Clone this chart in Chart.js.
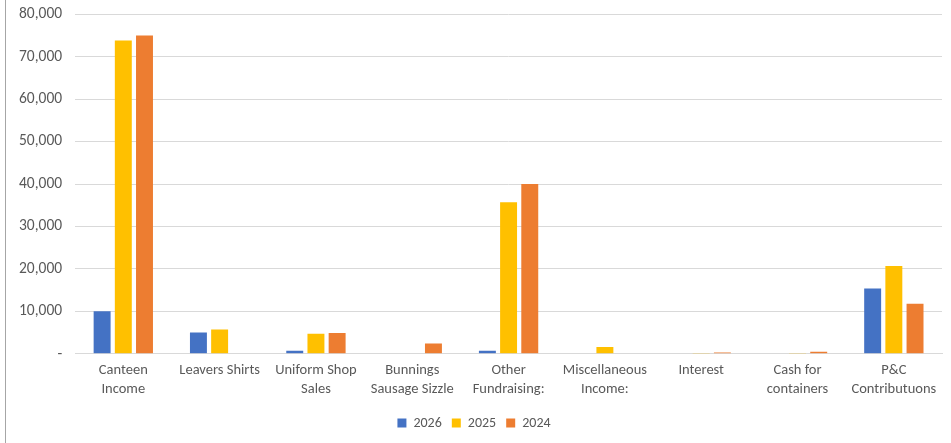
<!DOCTYPE html>
<html>
<head>
<meta charset="utf-8">
<script src="https://cdn.jsdelivr.net/npm/chart.js@4"></script>
<style>
html,body{margin:0;padding:0;background:#fff;overflow:hidden;}
#wrap{position:absolute;left:5px;top:-8px;width:946px;height:451px;border-left:1px solid #a6a6a6;}
canvas{display:block;}
</style>
</head>
<body>
<div id="wrap"><canvas id="c"></canvas></div>
<script>
const categories = [
  ["Canteen","Income"],
  ["Leavers Shirts"],
  ["Uniform Shop","Sales"],
  ["Bunnings","Sausage Sizzle"],
  ["Other","Fundraising:"],
  ["Miscellaneous","Income:"],
  ["Interest"],
  ["Cash for","containers"],
  ["P&C","Contributuons"]
];
const seriesNames = ["2026","2025","2024"];
const values2026 = [10000, 5000, 700, 0, 700, 0, 0, 0, 15400];
const values2025 = [73800, 5700, 4700, 0, 35700, 1600, 200, 200, 20700];
const values2024 = [75000, 0, 4900, 2400, 40000, 0, 300, 500, 11800];
const colors = ["#4472c4", "#ffc000", "#ed7d31"];
const yTicks = [0, 10000, 20000, 30000, 40000, 50000, 60000, 70000, 80000];

const font = "Calibri, Carlito, 'Open Sans', 'Noto Sans', sans-serif";
const ctx = document.getElementById('c');
new Chart(ctx, {
  type: 'bar',
  data: {
    labels: categories,
    datasets: [values2026, values2025, values2024].map((v, i) => ({
      label: seriesNames[i],
      data: v,
      backgroundColor: colors[i],
      borderWidth: 0,
      barPercentage: 0.8,
      categoryPercentage: 0.66
    }))
  },
  options: {
    responsive: true,
    maintainAspectRatio: false,
    animation: false,
    layout: { padding: { left: 0, right: 10, top: 0, bottom: 3 } },
    plugins: {
      legend: {
        position: 'bottom',
        labels: {
          boxWidth: 9, boxHeight: 9, padding: 10,
          color: '#595959',
          font: { family: font, size: 14 }
        }
      },
      tooltip: { enabled: false }
    },
    scales: {
      x: {
        grid: { display: false, drawTicks: false },
        border: { color: '#d9d9d9', width: 1 },
        ticks: {
          color: '#595959', padding: 8, maxRotation: 0, autoSkip: false,
          font: { family: font, size: 14.5, lineHeight: 1.25 }
        }
      },
      y: {
        min: 0, max: 80000,
        afterBuildTicks: (axis) => { axis.ticks = yTicks.map(v => ({ value: v })); },
        grid: { color: '#d9d9d9', drawTicks: false, lineWidth: 1 },
        border: { display: false },
        ticks: {
          color: '#595959', padding: 13,
          font: { family: font, size: 15.5 },
          callback: (v) => v === 0 ? '-' : v.toLocaleString('en-US')
        }
      }
    }
  }
});
</script>
</body>
</html>
